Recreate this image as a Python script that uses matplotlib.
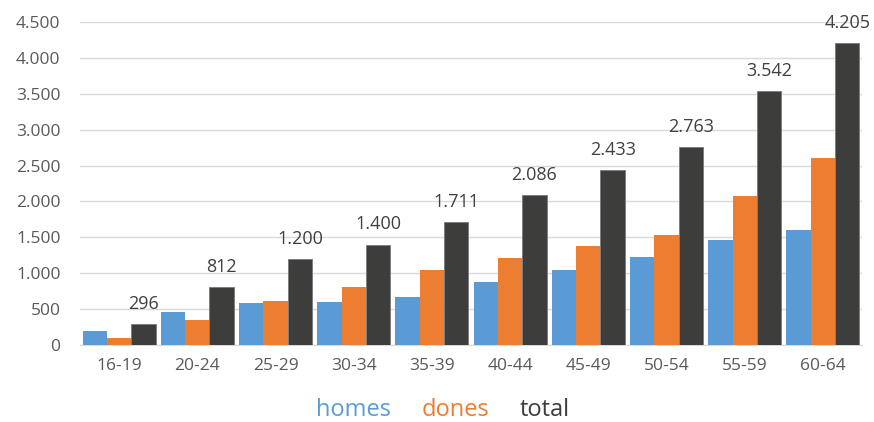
import matplotlib
matplotlib.use("Agg")
import matplotlib.pyplot as plt
import numpy as np

# datos por grupo de edad
ages = ['16-19', '20-24', '25-29', '30-34', '35-39', '40-44', '45-49', '50-54', '55-59', '60-64']
homes = [195, 466, 590, 598, 670, 874, 1050, 1230, 1462, 1606]
dones = [101, 346, 610, 802, 1041, 1212, 1383, 1533, 2080, 2599]
total = [296, 812, 1200, 1400, 1711, 2086, 2433, 2763, 3542, 4205]
yticks = [0, 500, 1000, 1500, 2000, 2500, 3000, 3500, 4000, 4500]

c_homes = '#5B9BD5'
c_dones = '#ED7D31'
c_total = '#3D3D3C'
gray = '#595959'

plt.rcParams['font.family'] = ['Open Sans', 'DejaVu Sans']

fig = plt.figure(figsize=(8.74, 4.22), dpi=100)
ax = fig.add_axes([80/874, 1-345/422, 782/874, 323/422])

x = np.arange(len(ages))
w = 0.312
ax.bar(x - w, homes, w, color=c_homes, label='homes', zorder=3)
ax.bar(x, dones, w, color=c_dones, label='dones', zorder=3)
b3 = ax.bar(x + w, total, w, color=c_total, edgecolor='#7a7a7a', linewidth=0.6, label='total', zorder=3)

# etiquetas encima de total
for rect, v in zip(b3, total):
    ax.annotate(f'{v:,}'.replace(',', '.'), (rect.get_x() + rect.get_width()/2, v),
                xytext=(0, 8), textcoords='offset points', ha='center', va='bottom',
                fontsize=13, color='#404040', annotation_clip=False)

ax.set_xlim(-0.5, len(ages) - 0.5)
ax.set_ylim(0, 4500)
ax.set_yticks(yticks)
ax.set_yticklabels([f'{v:,}'.replace(',', '.') for v in yticks])
ax.set_xticks(x)
ax.set_xticklabels(ages)
ax.tick_params(axis='both', length=0, labelsize=12.5, labelcolor=gray)
ax.tick_params(axis='y', pad=14)
ax.tick_params(axis='x', pad=9)
ax.grid(axis='y', color='#d9d9d9', linewidth=1, zorder=0)
for s in ['top', 'right', 'left']:
    ax.spines[s].set_visible(False)
ax.spines['bottom'].set_color('#d9d9d9')

leg = fig.legend(loc='center', bbox_to_anchor=(443/874, 1-410/422), ncol=3, frameon=False,
                 handlelength=0, handletextpad=0, columnspacing=1.3, fontsize=17,
                 labelcolor=[c_homes, c_dones, c_total], borderpad=0.2)
for h in leg.legend_handles:
    h.set_visible(False)

fig.savefig('out.png', dpi=100)
